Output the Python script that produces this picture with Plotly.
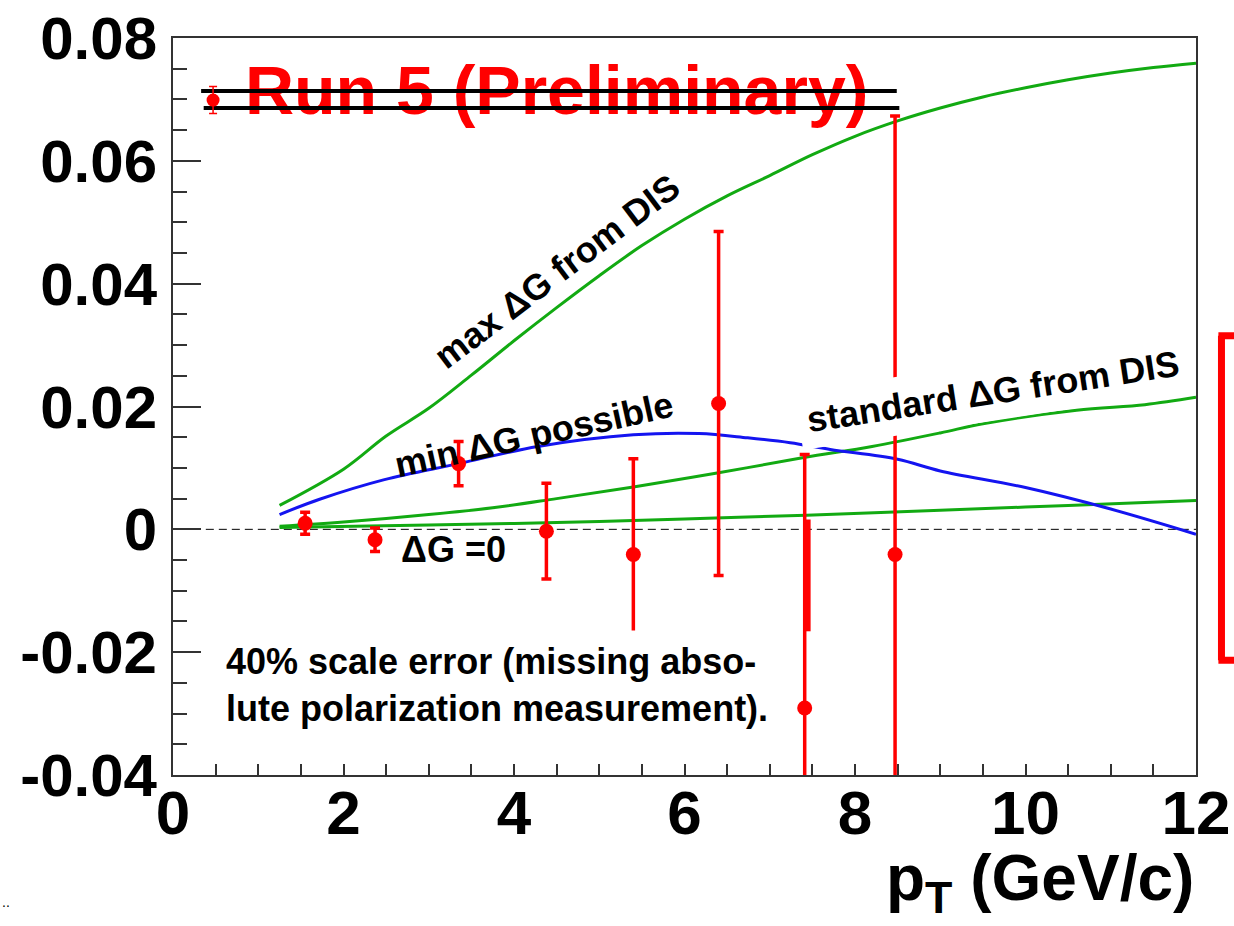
import plotly.graph_objects as go

FONT = "Liberation Sans, Arial, sans-serif"

# --- measured asymmetry points (pT in GeV/c) ---
pt = [1.55, 2.37, 3.35, 4.38, 5.40, 6.40, 7.41, 8.47]
a_ll = [0.0010, -0.0017, 0.0107, -0.0003, -0.0041, 0.0205, -0.0291, -0.0041]
a_err = [0.0018, 0.0019, 0.0036, 0.0078, 0.0156, 0.0280, 0.0413, 0.0714]

# second, overlapping error bar at the 7.4 GeV/c bin
pt_overlap = [7.45]
a_overlap = [-0.0075]
a_overlap_err = [0.0091]

# --- theory curves ---
pt_max = [1.25, 2.0, 2.5, 3.0, 3.5, 4.0, 4.5, 5.0, 5.5, 6.0, 6.5, 7.0, 7.5,
          8.0, 8.5, 9.0, 9.5, 10.0, 10.5, 11.0, 11.5, 12.0]
dg_max = [0.0039, 0.0098, 0.0152, 0.0197, 0.0251, 0.0307, 0.0361, 0.0413,
          0.0462, 0.0505, 0.0543, 0.0576, 0.0610, 0.0640, 0.0665, 0.0686,
          0.0704, 0.0719, 0.0732, 0.0743, 0.0752, 0.0759]

pt_min = [1.25, 1.72, 2.48, 3.35, 4.28, 5.40, 6.17, 6.74, 7.24, 7.71, 8.5,
          9.0, 10.0, 11.0, 12.0]
dg_min = [0.0024, 0.0049, 0.0081, 0.0107, 0.0135, 0.0154, 0.0156, 0.0149,
          0.0141, 0.0130, 0.0114, 0.0095, 0.0068, 0.0033, -0.0008]

pt_std = [1.25, 2.0, 3.0, 3.75, 4.5, 5.4, 6.4, 7.4, 8.2, 9.0, 9.5, 10.6,
          11.4, 12.0]
dg_std = [0.0005, 0.0012, 0.0024, 0.0035, 0.0050, 0.0069, 0.0092, 0.0117,
          0.0135, 0.0157, 0.0172, 0.0194, 0.0203, 0.0215]

pt_zero = [1.25, 3.0, 4.5, 6.0, 7.43, 9.0, 10.5, 12.0]
dg_zero = [0.0003, 0.0007, 0.0011, 0.0017, 0.0023, 0.0031, 0.0039, 0.0047]

# --- axes ---
x_ticks = [0, 2, 4, 6, 8, 10, 12]
x_ticktext = ["0", "2", "4", "6", "8", "10", "12"]
y_ticks = [-0.04, -0.02, 0.0, 0.02, 0.04, 0.06, 0.08]
y_ticktext = ["-0.04", "-0.02", "0", "0.02", "0.04", "0.06", "0.08"]

# --- header marker and rules ---
key_x = [0.47]
key_y = [0.0699]
key_err = [0.0022]
rule_x = [[0.33, 8.49], [0.36, 8.52]]
rule_y = [0.07138, 0.06862]

# scale-error bracket (y range)
bracket_y = [-0.0213, 0.0315]

GREEN = "#12aa12"
BLUE = "#1414f0"
RED = "#ff0000"

fig = go.Figure()

# dashed zero line
fig.add_trace(go.Scatter(x=[0.08, 12], y=[0, 0], mode="lines",
                         line=dict(color="black", width=1, dash="8px,5px"),
                         hoverinfo="skip"))

for xs, ys, col in [(pt_max, dg_max, GREEN), (pt_std, dg_std, GREEN),
                    (pt_zero, dg_zero, GREEN), (pt_min, dg_min, BLUE)]:
    fig.add_trace(go.Scatter(x=xs, y=ys, mode="lines",
                             line=dict(color=col, width=3, shape="spline"),
                             hoverinfo="skip"))

# overlapping bar (no marker)
fig.add_trace(go.Scatter(x=pt_overlap, y=a_overlap, mode="markers",
                         marker=dict(size=1, color="rgba(0,0,0,0)"),
                         error_y=dict(type="data", array=a_overlap_err,
                                      color=RED, thickness=5, width=0)))

# data points
fig.add_trace(go.Scatter(x=pt, y=a_ll, mode="markers",
                         marker=dict(size=15, color=RED),
                         error_y=dict(type="data", array=a_err, color=RED,
                                      thickness=3.5, width=5)))

# header text with rules across it
fig.add_trace(go.Scatter(x=[4.50], y=[0.0704], mode="text",
                         text=["Run 5 (Preliminary)"],
                         textposition="middle center",
                         textfont=dict(family=FONT, size=68, color=RED,
                                       weight="bold")))
for rx, ry in zip(rule_x, rule_y):
    fig.add_trace(go.Scatter(x=rx, y=[ry, ry], mode="lines",
                             line=dict(color="black", width=4),
                             hoverinfo="skip"))
fig.add_trace(go.Scatter(x=key_x, y=key_y, mode="markers",
                         marker=dict(size=13, color=RED),
                         error_y=dict(type="data", array=key_err, color=RED,
                                      thickness=1.5, width=4)))

ann_font = dict(family=FONT, size=36, color="black", weight="bold")
annotations = [
    dict(x=4.50, y=0.04200, text="max ΔG from DIS", textangle=-37,
         bgcolor="white", borderpad=0),
    dict(x=4.235, y=0.01545, text="min ΔG possible", textangle=-12.5),
    dict(x=9.62, y=0.02244, text="standard ΔG from DIS", textangle=-8.7,
         bgcolor="white", borderpad=8),
    dict(x=3.296, y=-0.00325, text="ΔG =0"),
    dict(x=0.493, y=-0.0253, xanchor="left", align="left",
         text="40% scale error (missing abso-<br>lute polarization measurement).",
         bgcolor="white", borderpad=10),
]
for a in annotations:
    a.setdefault("xanchor", "center")
    a.update(xref="x", yref="y", showarrow=False, font=ann_font, yanchor="middle")
fig.update_layout(annotations=annotations)

# x-axis title
fig.add_annotation(xref="paper", yref="paper", x=1.0, y=-0.2022,
                   xanchor="right", yanchor="bottom", showarrow=False,
                   text="p<sub>T</sub> (GeV/c)",
                   font=dict(family=FONT, size=64, color="black", weight="bold"))
fig.add_annotation(xref="paper", yref="paper", x=-0.169, y=-0.172,
                   xanchor="left", yanchor="middle", showarrow=False,
                   text="..", font=dict(family=FONT, size=14, color="black"))

# scale-error bracket outside the frame
bx = 1.0249
fig.add_shape(type="line", xref="paper", yref="y", x0=bx, x1=bx,
              y0=bracket_y[0], y1=bracket_y[1],
              line=dict(color=RED, width=7))
for by in bracket_y:
    fig.add_shape(type="line", xref="paper", yref="y", x0=bx - 0.003, x1=1.07,
                  y0=by, y1=by, line=dict(color=RED, width=7))

y_tick_font = dict(family=FONT, size=60, color="black", weight="bold")
x_tick_font = dict(family=FONT, size=62, color="black", weight="bold")
fig.update_xaxes(range=[0, 12], tickvals=x_ticks, ticktext=x_ticktext,
                 ticks="inside", ticklen=11, tickwidth=1.5, tickcolor="#333",
                 minor=dict(dtick=0.5, ticks="inside", ticklen=11,
                            tickwidth=1.5, tickcolor="#333"),
                 showline=True, linecolor="#333", linewidth=2, mirror=True,
                 showgrid=False, zeroline=False, tickfont=x_tick_font,
                 ticklabelstandoff=-17, automargin=False)
fig.update_yaxes(range=[-0.04, 0.08], tickvals=y_ticks, ticktext=y_ticktext,
                 ticks="inside", ticklen=28, tickwidth=1.5, tickcolor="#333",
                 minor=dict(dtick=0.005, tick0=0, ticks="inside", ticklen=14,
                            tickwidth=1.5, tickcolor="#333"),
                 showline=True, linecolor="#333", linewidth=2, mirror=True,
                 showgrid=False, zeroline=False, tickfont=y_tick_font,
                 ticklabelstandoff=2, automargin=False)

fig.update_layout(width=1234, height=926, showlegend=False,
                  plot_bgcolor="white", paper_bgcolor="white",
                  margin=dict(l=173, r=38, t=38, b=151, autoexpand=False))

fig.write_html("out.html")
